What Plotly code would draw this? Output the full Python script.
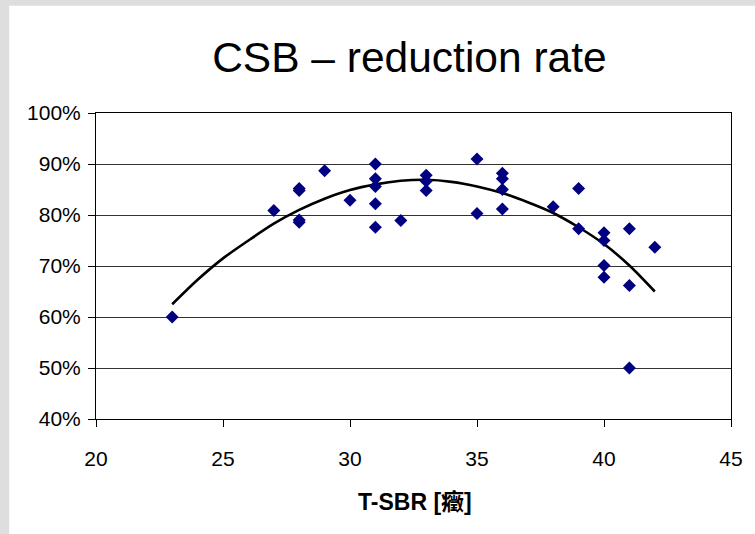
import plotly.graph_objects as go

# Measured data (T-SBR vs CSB reduction rate, %)
tsbr = [23, 27, 28, 28, 28, 28, 29, 30, 31, 31, 31, 31, 31, 32, 33, 33, 33,
        35, 35, 36, 36, 36, 36, 38, 39, 39, 40, 40, 40, 40, 41, 41, 41, 42]
reduction = [60.0, 80.9, 85.2, 84.8, 79.0, 78.6, 88.7, 82.9, 90.0, 87.1, 85.6, 82.2, 77.6,
             78.9, 87.8, 86.6, 84.8, 91.0, 80.3, 88.2, 87.1, 85.0, 81.2, 81.6, 85.2, 77.3,
             76.5, 75.0, 70.1, 67.8, 77.3, 66.2, 50.0, 73.7]

# Trendline (polynomial)
trend_x = [23, 24, 25, 26, 27, 28, 29, 30, 31, 32, 33, 34, 35, 36, 37, 38, 39, 40, 41, 42]
trend_y = [62.5, 67.3, 71.5, 75.0, 78.3, 81.0, 83.2, 84.9, 86.0, 86.7, 86.9, 86.5, 85.6,
           84.3, 82.5, 80.4, 77.6, 74.3, 70.1, 65.0]

x_ticks = [20, 25, 30, 35, 40, 45]
y_ticks = [40, 50, 60, 70, 80, 90, 100]
y_tick_labels = [f"{v}%" for v in y_ticks]

W, H = 755, 534
L, R, T, B = 95.5, 19.5, 113.3, 114.7
pw = W - L - R
ph = H - T - B

def px_to_paper_x(px):
    return (px - L) / pw

def py_to_paper_y(py):
    return (H - B - py) / ph

font_family = "Liberation Sans, Arial, Noto Sans CJK SC, sans-serif"
bg_gray = "#dedede"

fig = go.Figure()
fig.add_trace(go.Scatter(
    x=trend_x, y=trend_y, mode="lines",
    line=dict(color="black", width=2.6, shape="spline", smoothing=0.8),
    hoverinfo="skip", showlegend=False,
))
fig.add_trace(go.Scatter(
    x=tsbr, y=reduction, mode="markers",
    marker=dict(symbol="diamond", size=10, color="#000080", line=dict(width=0)),
    showlegend=False,
))

fig.update_layout(
    width=W, height=H,
    margin=dict(l=L, r=R, t=T, b=B, pad=0),
    paper_bgcolor=bg_gray,
    plot_bgcolor="white",
    font=dict(family=font_family, color="black", size=21),
    title=dict(
        text="CSB – reduction rate",
        font=dict(family=font_family, size=42.5, color="black"),
        xref="container", yref="container",
        x=409.4 / W, xanchor="center",
        y=1 - 57.0 / H, yanchor="middle",
    ),
    shapes=[dict(
        type="rect", xref="paper", yref="paper", layer="below",
        x0=px_to_paper_x(8), x1=px_to_paper_x(W + 5),
        y0=py_to_paper_y(H + 5), y1=py_to_paper_y(6),
        fillcolor="white", line=dict(width=0),
    )],
    annotations=[dict(
        text="<b>T-SBR [癥]</b>",
        xref="paper", yref="paper",
        x=px_to_paper_x(417), y=py_to_paper_y(502),
        xanchor="center", yanchor="middle",
        showarrow=False,
        font=dict(family=font_family, size=23, color="black"),
    )],
)

fig.update_xaxes(
    range=[20, 45], tickvals=x_ticks, ticktext=[str(v) for v in x_ticks],
    showgrid=False, zeroline=False,
    showline=True, linecolor="black", linewidth=1, mirror=True,
    ticks="outside", ticklen=7, tickcolor="black", tickwidth=1,
    tickfont=dict(size=21), ticklabelstandoff=14,
)
fig.update_yaxes(
    range=[40, 100], tickvals=y_ticks, ticktext=y_tick_labels,
    showgrid=True, gridcolor="#333333", gridwidth=1, zeroline=False,
    showline=True, linecolor="black", linewidth=1, mirror=True,
    ticks="outside", ticklen=7, tickcolor="black", tickwidth=1,
    tickfont=dict(size=21), ticklabelstandoff=3,
)

fig.write_html(
    "out.html",
    config={"displayModeBar": False},
    post_script="document.body.style.margin='0';document.body.style.background='" + bg_gray + "';",
)
